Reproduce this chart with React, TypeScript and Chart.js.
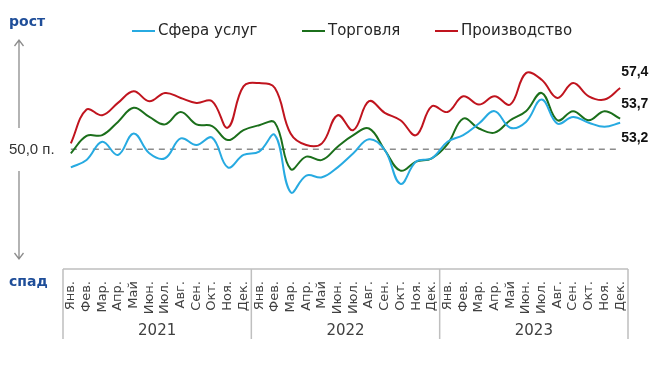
import React, { useEffect, useRef } from 'react';
import { Chart, registerables } from 'chart.js';
Chart.register(...registerables);

const monthNames = ['Янв.', 'Фев.', 'Мар.', 'Апр.', 'Май', 'Июн.', 'Июл.', 'Авг.', 'Сен.', 'Окт.', 'Ноя.', 'Дек.'];
const years = ['2021', '2022', '2023'];
const categories = years.flatMap(() => monthNames);

const services = [
  47.8, 48.7, 50.9, 49.3, 51.9, 49.5, 48.9, 51.3, 50.5, 51.4, 47.8, 49.3,
  49.7, 51.7, 44.8, 46.8, 46.6, 47.8, 49.5, 51.2, 49.9, 45.8, 48.5, 48.9,
  50.9, 51.7, 53.1, 54.6, 52.6, 53.3, 56.0, 53.1, 53.9, 53.2, 52.7, 53.2,
];
const trade = [
  49.5, 51.6, 51.7, 53.3, 55.0, 53.9, 53.0, 54.5, 53.0, 52.8, 51.1, 52.3,
  52.9, 53.2, 47.6, 49.1, 48.7, 50.3, 51.7, 52.5, 49.9, 47.4, 48.5, 48.9,
  50.6, 53.7, 52.5, 52.0, 53.5, 54.6, 56.8, 53.5, 54.6, 53.5, 54.6, 53.7,
];
const manufacturing = [
  50.7, 54.8, 54.1, 55.6, 57.0, 55.8, 56.8, 56.2, 55.6, 55.8, 52.6, 57.6,
  58.0, 57.4, 51.9, 50.5, 50.7, 54.1, 52.3, 55.8, 54.4, 53.5, 51.7, 55.2,
  54.5, 56.4, 55.4, 56.4, 55.4, 59.2, 58.4, 56.2, 58.0, 56.4, 56.0, 57.4,
];
const seriesNames = ['Сфера услуг', 'Торговля', 'Производство'];
const seriesColors = ['#27aae1', '#1b6f1b', '#c0141e'];
const baseline = 50;
const baselineLabel = '50,0 п.';
const upLabel = 'рост';
const downLabel = 'спад';

const fmt = (v: number) => v.toFixed(1).replace('.', ',');

const decor = {
  id: 'decor',
  beforeDatasetsDraw(chart: any) {
    const { ctx, scales } = chart;
    const x = scales.x, y = scales.y;
    const y50 = y.getPixelForValue(baseline);
    ctx.save();
    ctx.setLineDash([6, 5]);
    ctx.strokeStyle = '#8c8c8c';
    ctx.lineWidth = 1.5;
    ctx.beginPath();
    ctx.moveTo(x.getPixelForValue(0), y50);
    ctx.lineTo(x.getPixelForValue(categories.length - 1), y50);
    ctx.stroke();
    ctx.restore();
  },
  afterDraw(chart: any) {
    const { ctx, scales, chartArea } = chart;
    const x = scales.x, y = scales.y;
    const bottom = chartArea.bottom;
    ctx.save();
    // x-axis frame
    ctx.strokeStyle = '#bfbfbf';
    ctx.lineWidth = 1.5;
    ctx.beginPath();
    ctx.moveTo(x.left, bottom);
    ctx.lineTo(x.right, bottom);
    const bounds: number[] = [x.left];
    for (let i = 1; i < years.length; i++) {
      const k = i * monthNames.length;
      bounds.push((x.getPixelForValue(k - 1) + x.getPixelForValue(k)) / 2);
    }
    bounds.push(x.right);
    bounds.forEach((bx) => {
      ctx.moveTo(bx, bottom);
      ctx.lineTo(bx, bottom + 70);
    });
    ctx.stroke();
    // year labels
    ctx.fillStyle = '#404040';
    ctx.font = '15px "DejaVu Sans"';
    ctx.textAlign = 'center';
    ctx.textBaseline = 'middle';
    years.forEach((yr, i) => {
      ctx.fillText(yr, (bounds[i] + bounds[i + 1]) / 2, bottom + 62);
    });
    // legend
    const legendX = [132, 302, 435];
    ctx.font = '15px "DejaVu Sans"';
    ctx.textAlign = 'left';
    seriesNames.forEach((n, i) => {
      ctx.strokeStyle = seriesColors[i];
      ctx.lineWidth = 2;
      ctx.beginPath();
      ctx.moveTo(legendX[i], 31);
      ctx.lineTo(legendX[i] + 23, 31);
      ctx.stroke();
      ctx.fillStyle = '#262626';
      ctx.fillText(n, legendX[i] + 26, 31);
    });
    // left annotations
    const y50 = y.getPixelForValue(baseline);
    ctx.fillStyle = '#1f4e99';
    ctx.font = 'bold 14px "DejaVu Sans"';
    ctx.fillText(upLabel, 9, 22);
    ctx.fillText(downLabel, 9, 282);
    ctx.fillStyle = '#333333';
    ctx.font = '15px "Liberation Sans"';
    ctx.fillText(baselineLabel, 9, y50 + 1);
    ctx.strokeStyle = '#8c8c8c';
    ctx.lineWidth = 1.3;
    ctx.beginPath();
    ctx.moveTo(19, 40); ctx.lineTo(19, 128);
    ctx.moveTo(14.5, 46); ctx.lineTo(19, 40); ctx.lineTo(23.5, 46);
    ctx.moveTo(19, 171); ctx.lineTo(19, 259);
    ctx.moveTo(14.5, 253); ctx.lineTo(19, 259); ctx.lineTo(23.5, 253);
    ctx.stroke();
    // end labels
    const offs = [15, -14, -16];
    ctx.fillStyle = '#111111';
    ctx.font = 'bold 14px "Liberation Sans"';
    chart.data.datasets.forEach((ds: any, i: number) => {
      const meta = chart.getDatasetMeta(i);
      const pt = meta.data[meta.data.length - 1];
      ctx.fillText(fmt(ds.data[ds.data.length - 1]), pt.x + 1, pt.y + offs[i]);
    });
    ctx.restore();
  },
};

export default function App() {
  const ref = useRef<HTMLCanvasElement>(null);
  useEffect(() => {
    if (!ref.current) return;
    const data = [services, trade, manufacturing];
    const chart = new Chart(ref.current, {
      type: 'line',
      data: {
        labels: categories,
        datasets: data.map((d, i) => ({
          label: seriesNames[i],
          data: d,
          borderColor: seriesColors[i],
          backgroundColor: seriesColors[i],
          borderWidth: 2,
          pointRadius: 0,
          tension: 0.4,
          fill: false,
        })),
      },
      options: {
        responsive: false,
        animation: false,
        layout: { padding: { top: 50, left: 63, right: 33, bottom: 34 } },
        plugins: { legend: { display: false }, tooltip: { enabled: false } },
        scales: {
          x: {
            type: 'category',
            offset: true,
            grid: { display: false },
            border: { display: false },
            afterFit: (s: any) => { s.height = 70; },
            ticks: {
              autoSkip: false,
              minRotation: 90,
              maxRotation: 90,
              padding: 4,
              color: '#404040',
              font: { family: 'DejaVu Sans', size: 13 },
            },
          },
          y: { display: false, min: 35.5, max: 62 },
        },
      },
      plugins: [decor],
    });
    return () => chart.destroy();
  }, []);
  return (
    <canvas
      ref={ref}
      width={661}
      height={373}
      style={{ position: 'absolute', left: 0, top: 0, width: 661, height: 373 }}
    />
  );
}
